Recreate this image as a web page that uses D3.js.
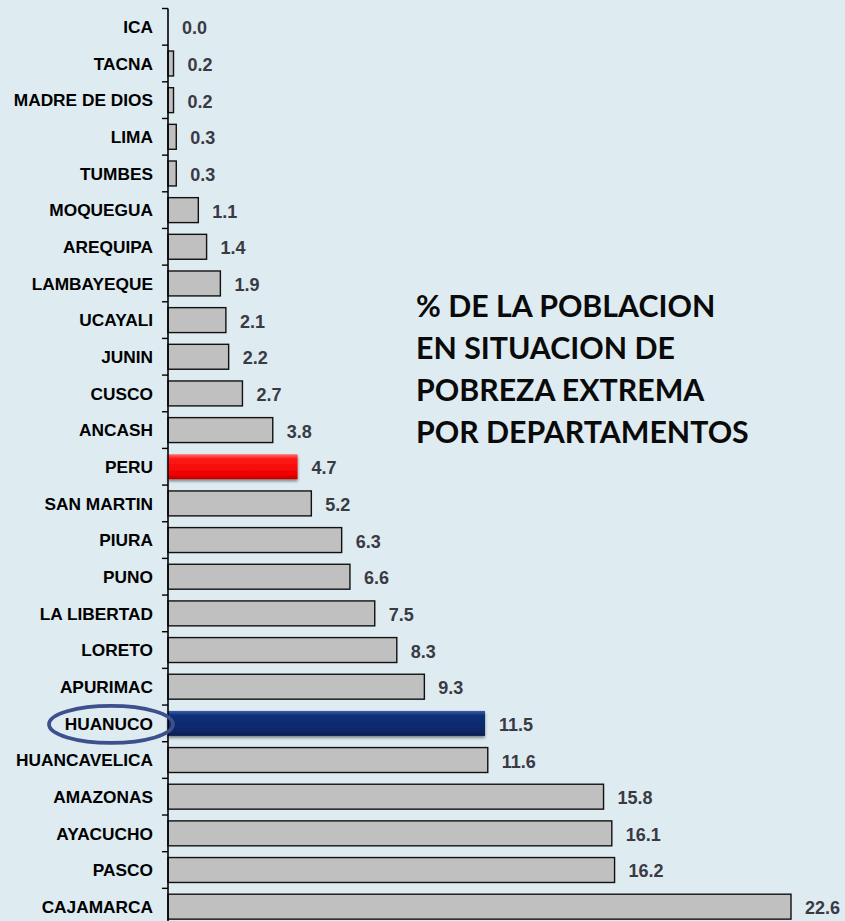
<!DOCTYPE html>
<html>
<head>
<meta charset="utf-8">
<script src="https://cdn.jsdelivr.net/npm/d3@7/dist/d3.min.js"></script>
<style>
    html, body { margin: 0; padding: 0; background: #deebf1; overflow: hidden; }
    svg { display: block; }
    .cat-label { font-family: Arial, "Liberation Sans", sans-serif; font-weight: bold; font-size: 17.3px; fill: #000; }
    .val-label { font-family: Arial, "Liberation Sans", sans-serif; font-weight: bold; font-size: 18px; fill: #3a3a44; }
    .title { font-family: Lato, "Open Sans", sans-serif; font-weight: bold; font-size: 30.3px; fill: #0a0a0a; }
</style>
</head>
<body>
<svg id="chart"></svg>
<script>
var departments = ["ICA", "TACNA", "MADRE DE DIOS", "LIMA", "TUMBES", "MOQUEGUA", "AREQUIPA",
    "LAMBAYEQUE", "UCAYALI", "JUNIN", "CUSCO", "ANCASH", "PERU", "SAN MARTIN", "PIURA", "PUNO",
    "LA LIBERTAD", "LORETO", "APURIMAC", "HUANUCO", "HUANCAVELICA", "AMAZONAS", "AYACUCHO",
    "PASCO", "CAJAMARCA"];
var poverty = [0.0, 0.2, 0.2, 0.3, 0.3, 1.1, 1.4, 1.9, 2.1, 2.2, 2.7, 3.8, 4.7, 5.2, 6.3, 6.6,
    7.5, 8.3, 9.3, 11.5, 11.6, 15.8, 16.1, 16.2, 22.6];
var titleLines = ["% DE LA POBLACION", "EN SITUACION DE", "POBREZA EXTREMA", "POR DEPARTAMENTOS"];
var highlightNational = "PERU";
var highlightRegion = "HUANUCO";

(function () {
    var width = 845, height = 921;
    // the last band runs a little past the bottom edge, as in the original slide
    var margin = { top: 8.5, left: 168, right: 54, bottom: -4 };

    var svg = d3.select("#chart")
        .attr("width", width)
        .attr("height", height);

    var data = departments.map(function (d, i) {
        return { name: d, value: poverty[i] };
    });

    var x = d3.scaleLinear()
        .domain([0, d3.max(poverty)])
        .range([margin.left, width - margin.right]);

    var y = d3.scaleBand()
        .domain(departments)
        .range([margin.top, height - margin.bottom])
        .paddingInner(0.32)
        .paddingOuter(0.16);

    // gradients for the two highlighted bars
    var defs = svg.append("defs");
    function addGradient(id, stops) {
        var g = defs.append("linearGradient")
            .attr("id", id)
            .attr("x1", 0).attr("y1", 0).attr("x2", 0).attr("y2", 1);
        stops.forEach(function (s) {
            g.append("stop").attr("offset", s[0]).attr("stop-color", s[1]);
        });
    }
    addGradient("grad-red", [["0%", "#ff6a6a"], ["18%", "#ff1a1a"], ["80%", "#f20000"], ["100%", "#b80000"]]);
    addGradient("grad-blue", [["0%", "#3a5ea8"], ["18%", "#10307a"], ["80%", "#0b2768"], ["100%", "#061a4a"]]);

    var shadow = defs.append("filter").attr("id", "shadow")
        .attr("x", "-5%").attr("y", "-20%").attr("width", "110%").attr("height", "160%");
    shadow.append("feDropShadow")
        .attr("dx", 0).attr("dy", 2).attr("stdDeviation", 1.5)
        .attr("flood-color", "#000").attr("flood-opacity", 0.45);

    function fillFor(d) {
        if (d.name === highlightNational) return "url(#grad-red)";
        if (d.name === highlightRegion) return "url(#grad-blue)";
        return "#c0c0c0";
    }
    function isHighlight(d) {
        return d.name === highlightNational || d.name === highlightRegion;
    }

    // bars
    svg.append("g")
        .attr("class", "bars")
        .selectAll("rect")
        .data(data)
        .enter().append("rect")
        .attr("x", x(0))
        .attr("y", function (d) { return y(d.name); })
        .attr("width", function (d) { return x(d.value) - x(0); })
        .attr("height", y.bandwidth())
        .attr("fill", fillFor)
        .attr("stroke", function (d) { return isHighlight(d) ? "none" : "#111"; })
        .attr("stroke-width", 1.4)
        .attr("filter", function (d) { return isHighlight(d) ? "url(#shadow)" : null; });

    // category axis: line plus ticks on band boundaries
    var axis = svg.append("g").attr("class", "axis");
    axis.append("line")
        .attr("x1", x(0)).attr("x2", x(0))
        .attr("y1", margin.top).attr("y2", height)
        .attr("stroke", "#000").attr("stroke-width", 1.6);
    var step = y.step();
    var tickYs = d3.range(departments.length + 1).map(function (i) { return margin.top + i * step; });
    axis.selectAll("line.tick")
        .data(tickYs)
        .enter().append("line")
        .attr("class", "tick")
        .attr("x1", x(0) - 6).attr("x2", x(0))
        .attr("y1", function (d) { return d; })
        .attr("y2", function (d) { return d; })
        .attr("stroke", "#000").attr("stroke-width", 1.4);

    // category labels
    svg.append("g")
        .selectAll("text")
        .data(data)
        .enter().append("text")
        .attr("class", "cat-label")
        .attr("x", x(0) - 15)
        .attr("y", function (d) { return y(d.name) + y.bandwidth() / 2; })
        .attr("dy", "0.36em")
        .attr("text-anchor", "end")
        .text(function (d) { return d.name; });

    // value labels
    svg.append("g")
        .selectAll("text")
        .data(data)
        .enter().append("text")
        .attr("class", "val-label")
        .attr("x", function (d) { return x(d.value) + 14; })
        .attr("y", function (d) { return y(d.name) + y.bandwidth() / 2 + 1; })
        .attr("dy", "0.36em")
        .text(function (d) { return d.value.toFixed(1); });

    // circle round the highlighted region label
    svg.append("ellipse")
        .attr("cx", x(0) - 57)
        .attr("cy", y(highlightRegion) + y.bandwidth() / 2 + 1)
        .attr("rx", 62)
        .attr("ry", 18.5)
        .attr("fill", "none")
        .attr("stroke", "#3d4f8c")
        .attr("stroke-width", 3.8);

    // title block
    svg.append("g")
        .selectAll("text")
        .data(titleLines)
        .enter().append("text")
        .attr("class", "title")
        .attr("x", 416)
        .attr("y", function (d, i) { return 317 + i * 42; })
        .text(function (d) { return d; });
})();
</script>
</body>
</html>
